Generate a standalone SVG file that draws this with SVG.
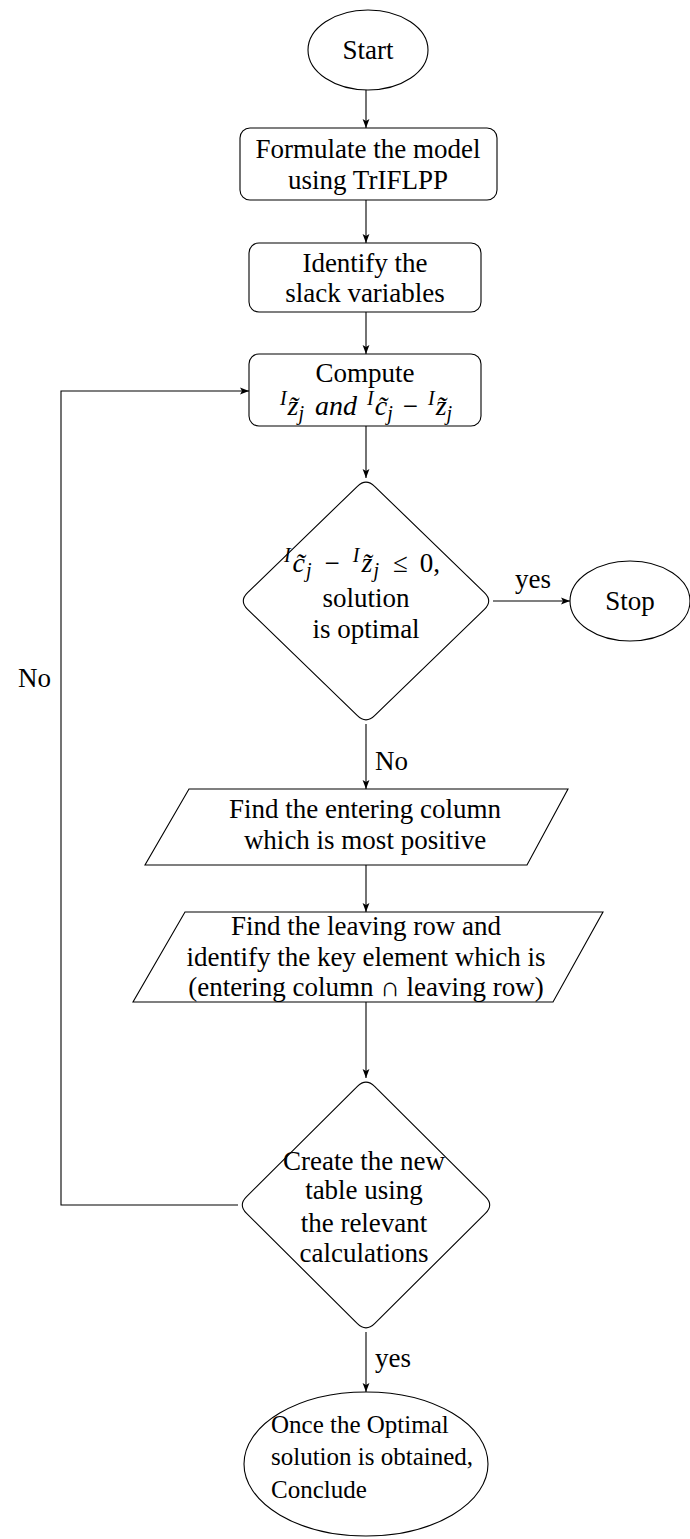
<svg xmlns="http://www.w3.org/2000/svg" width="690" height="1539" viewBox="0 0 690 1539">
<defs>
<marker id="arr" markerWidth="10" markerHeight="8" refX="9" refY="4" orient="auto" markerUnits="userSpaceOnUse">
<path d="M0,0.6 L9,4 L0,7.4 L2,4 Z" fill="#000"/>
</marker>
</defs>
<style>
.s{fill:#fff;stroke:#000;stroke-width:1.1}
text{font-family:'Liberation Serif','Times New Roman',serif;font-size:27px;fill:#000}
.t{text-anchor:middle}
.m{font-style:italic;font-size:28px}
.sup{font-style:italic;font-size:20px}
.c{fill:none;stroke:#000;stroke-width:1.1;marker-end:url(#arr)}
.e{font-size:25px}
</style>
<rect width="690" height="1539" fill="#fff"/>
<g id="connectors">
<line class="c" x1="366" y1="90" x2="366" y2="128"/>
<line class="c" x1="366" y1="200" x2="366" y2="243"/>
<line class="c" x1="366" y1="312" x2="366" y2="354"/>
<line class="c" x1="366" y1="426" x2="366" y2="478"/>
<line class="c" x1="493" y1="601" x2="570" y2="601"/>
<line class="c" x1="366" y1="724" x2="366" y2="789"/>
<line class="c" x1="366" y1="865" x2="366" y2="912"/>
<line class="c" x1="366" y1="1002" x2="366" y2="1078"/>
<line class="c" x1="366" y1="1332" x2="366" y2="1392"/>
<path class="c" d="M238,1205 H61 V391 H249"/>
<text class="t" x="533" y="588">yes</text>
<text x="375" y="770">No</text>
<text x="375" y="1367">yes</text>
<text x="18" y="687">No</text>
</g>
<g id="start">
<ellipse class="s" cx="368" cy="50" rx="60" ry="40"/>
<text class="t" x="368" y="59">Start</text>
</g>
<g id="formulate">
<rect class="s" x="240" y="128" width="257" height="72" rx="10"/>
<text class="t" x="368" y="158">Formulate the model</text>
<text class="t" x="368" y="189">using TrIFLPP</text>
</g>
<g id="identify">
<rect class="s" x="249" y="243" width="232" height="69" rx="10"/>
<text class="t" x="365" y="272">Identify the</text>
<text class="t" x="365" y="302">slack variables</text>
</g>
<g id="compute">
<rect class="s" x="249" y="354" width="232" height="72" rx="10"/>
<text class="t" x="365" y="382">Compute</text>
<text class="t" x="366" y="415"><tspan class="sup" dy="-10">I</tspan><tspan class="m" dx="1" dy="10">z̃</tspan><tspan class="sup" dy="5">j</tspan><tspan class="m" dx="11" dy="-5">and</tspan><tspan class="sup" dx="10" dy="-10">I</tspan><tspan class="m" dx="1" dy="10">c̃</tspan><tspan class="sup" dy="5">j</tspan><tspan dx="10" dy="-5">−</tspan><tspan class="sup" dx="10" dy="-10">I</tspan><tspan class="m" dx="1" dy="10">z̃</tspan><tspan class="sup" dy="5">j</tspan></text>
</g>
<g id="optimal-check">
<path class="s" d="M374.6,486.3 L484.4,592.7 Q493,601 484.4,609.3 L374.6,715.7 Q366,724 357.4,715.7 L247.6,609.3 Q239,601 247.6,592.7 L357.4,486.3 Q366,478 374.6,486.3 Z"/>
<text class="t" x="362" y="572"><tspan class="sup" dy="-10">I</tspan><tspan class="m" dx="2" dy="10">c̃</tspan><tspan class="sup" dx="1" dy="5">j</tspan><tspan dx="13" dy="-5">−</tspan><tspan class="sup" dx="13" dy="-10">I</tspan><tspan class="m" dx="2" dy="10">z̃</tspan><tspan class="sup" dx="1" dy="5">j</tspan><tspan dx="14" dy="-5">≤</tspan><tspan dx="12">0,</tspan></text>
<text class="t" x="366" y="607">solution</text>
<text class="t" x="366" y="638">is optimal</text>
</g>
<g id="stop">
<ellipse class="s" cx="630" cy="601" rx="60" ry="40"/>
<text class="t" x="630" y="610">Stop</text>
</g>
<g id="entering">
<polygon class="s" points="189,789 568,789 527,865 145,865"/>
<text class="t" x="365" y="818">Find the entering column</text>
<text class="t" x="365" y="849">which is most positive</text>
</g>
<g id="leaving">
<polygon class="s" points="185,912 603,912 553,1002 133,1002"/>
<text class="t" x="366" y="935">Find the leaving row and</text>
<text class="t" x="366" y="966">identify the key element which is</text>
<text class="t" x="366" y="996">(entering column ∩ leaving row)</text>
</g>
<g id="new-table">
<path class="s" d="M374.6,1086.4 L485.4,1196.6 Q494,1205 485.4,1213.4 L374.6,1323.6 Q366,1332 357.4,1323.6 L246.6,1213.4 Q238,1205 246.6,1196.6 L357.4,1086.4 Q366,1078 374.6,1086.4 Z"/>
<text class="t" x="364" y="1170">Create the new</text>
<text class="t" x="364" y="1199">table using</text>
<text class="t" x="364" y="1232">the relevant</text>
<text class="t" x="364" y="1262">calculations</text>
</g>
<g id="conclude">
<ellipse class="s" cx="366" cy="1464" rx="122" ry="72"/>
<text class="e" x="271" y="1433">Once the Optimal</text>
<text class="e" x="271" y="1465">solution is obtained,</text>
<text class="e" x="271" y="1498">Conclude</text>
</g>
</svg>
